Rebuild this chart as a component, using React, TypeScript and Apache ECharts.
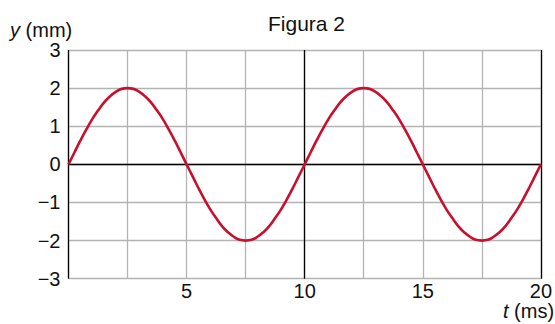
import React, { useEffect, useRef } from "react";
import * as echarts from "echarts";

const timeMs = [
  0, 0.25, 0.5, 0.75, 1, 1.25, 1.5, 1.75, 2, 2.25, 2.5, 2.75, 3, 3.25, 3.5, 3.75, 4, 4.25, 4.5, 4.75,
  5, 5.25, 5.5, 5.75, 6, 6.25, 6.5, 6.75, 7, 7.25, 7.5, 7.75, 8, 8.25, 8.5, 8.75, 9, 9.25, 9.5, 9.75,
  10, 10.25, 10.5, 10.75, 11, 11.25, 11.5, 11.75, 12, 12.25, 12.5, 12.75, 13, 13.25, 13.5, 13.75, 14, 14.25, 14.5, 14.75,
  15, 15.25, 15.5, 15.75, 16, 16.25, 16.5, 16.75, 17, 17.25, 17.5, 17.75, 18, 18.25, 18.5, 18.75, 19, 19.25, 19.5, 19.75,
  20,
];
const displacementMm = [
  0, 0.31, 0.62, 0.91, 1.18, 1.41, 1.62, 1.78, 1.9, 1.98, 2, 1.98, 1.9, 1.78, 1.62, 1.41, 1.18, 0.91, 0.62, 0.31,
  0, -0.31, -0.62, -0.91, -1.18, -1.41, -1.62, -1.78, -1.9, -1.98, -2, -1.98, -1.9, -1.78, -1.62, -1.41, -1.18, -0.91, -0.62, -0.31,
  0, 0.31, 0.62, 0.91, 1.18, 1.41, 1.62, 1.78, 1.9, 1.98, 2, 1.98, 1.9, 1.78, 1.62, 1.41, 1.18, 0.91, 0.62, 0.31,
  0, -0.31, -0.62, -0.91, -1.18, -1.41, -1.62, -1.78, -1.9, -1.98, -2, -1.98, -1.9, -1.78, -1.62, -1.41, -1.18, -0.91, -0.62, -0.31,
  0,
];
const xTickLabels = [5, 10, 15, 20];
const yTickLabels = [-3, -2, -1, 0, 1, 2, 3];
const blackVerticals = [0, 10, 20];

const FONT = "'Liberation Sans', Arial, Helvetica, sans-serif";

export default function App() {
  const ref = useRef<HTMLDivElement>(null);
  useEffect(() => {
    if (!ref.current) return;
    const chart = echarts.init(ref.current, undefined, { renderer: "svg" });
    const data = timeMs.map((t, i) => [t, displacementMm[i]]);
    chart.setOption({
      animation: false,
      backgroundColor: "#fff",
      grid: { left: 68.5, right: 10, top: 50, bottom: 45.3 },
      xAxis: {
        type: "value",
        min: 0,
        max: 20,
        interval: 2.5,
        axisLine: { show: false },
        axisTick: { show: false },
        splitLine: { show: true, lineStyle: { color: "#b3b3b3", width: 1.3 } },
        axisLabel: {
          fontFamily: FONT,
          fontSize: 20,
          lineHeight: 20,
          color: "#111",
          margin: 2,
          formatter: (v: number) => (xTickLabels.includes(v) ? String(v) : ""),
        },
      },
      yAxis: {
        type: "value",
        min: -3,
        max: 3,
        interval: 1,
        axisLine: { show: false },
        axisTick: { show: false },
        splitLine: { show: true, lineStyle: { color: "#b3b3b3", width: 1.3 } },
        axisLabel: {
          fontFamily: FONT,
          fontSize: 20,
          color: "#111",
          margin: 8,
          formatter: (v: number) =>
            yTickLabels.includes(v) ? (v < 0 ? "\u2212" + Math.abs(v) : String(v)) : "",
        },
      },
      series: [
        {
          type: "line",
          data,
          smooth: true,
          showSymbol: false,
          lineStyle: { color: "#c8102e", width: 2.6 },
          z: 3,
          markLine: {
            silent: true,
            symbol: "none",
            label: { show: false },
            lineStyle: { color: "#000", width: 1.3, type: "solid" },
            data: [
              ...blackVerticals.map((x) => ({ xAxis: x })),
              { yAxis: 0 },
            ],
            z: 2,
          },
        },
      ],
      graphic: [
        {
          type: "text",
          left: 268,
          top: 13,
          style: { text: "Figura 2", font: `21px ${FONT}`, fill: "#111" },
        },
        {
          type: "text",
          left: 10,
          top: 20,
          style: {
            text: "{i|y} (mm)",
            font: `20px ${FONT}`,
            fill: "#111",
            rich: { i: { fontStyle: "italic", fontFamily: FONT, fontSize: 20 } },
          },
        },
        {
          type: "text",
          left: 503,
          top: 301,
          style: {
            text: "{i|t} (ms)",
            font: `20px ${FONT}`,
            fill: "#111",
            rich: { i: { fontStyle: "italic", fontFamily: FONT, fontSize: 20 } },
          },
        },
      ],
    });
    return () => chart.dispose();
  }, []);
  return <div ref={ref} style={{ width: 555, height: 324, position: "absolute", left: 0, top: 0 }} />;
}
